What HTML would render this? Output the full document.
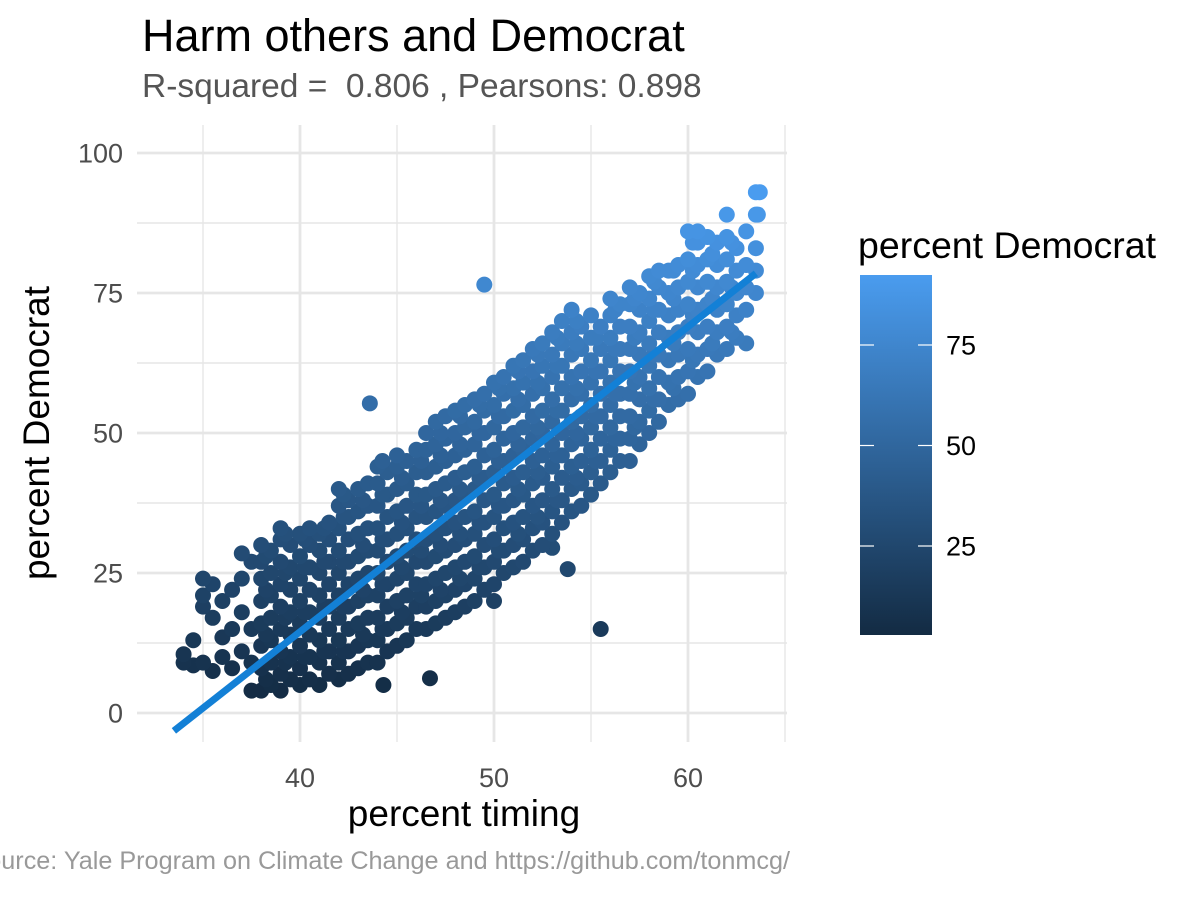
<!DOCTYPE html>
<html><head><meta charset="utf-8"><style>
html,body{margin:0;padding:0;background:#fff;}
svg text{font-family:"Liberation Sans",Arial,sans-serif;}
</style></head><body>
<svg id="chart" width="1200" height="900" xmlns="http://www.w3.org/2000/svg">
<defs><linearGradient id="cb" x1="0" y1="1" x2="0" y2="0"><stop offset="0" stop-color="#132B43"/><stop offset="1" stop-color="#4A9CEF"/></linearGradient></defs>
<g id="grid"></g>
<g id="points"></g>
<g id="fit"></g>
<g id="axes"></g>
<text x="142" y="51" font-size="45" fill="#000">Harm others and Democrat</text>
<text x="142" y="97" font-size="33.5" fill="#555" xml:space="preserve">R-squared =  0.806 , Pearsons: 0.898</text>
<text x="464" y="826" font-size="37" text-anchor="middle" fill="#000">percent timing</text>
<text transform="translate(49,433) rotate(-90)" font-size="37" text-anchor="middle" fill="#000">percent Democrat</text>
<text x="790" y="869" font-size="25.2" text-anchor="end" fill="#999">Source: Yale Program on Climate Change and https://github.com/tonmcg/</text>
<g>
<text x="858" y="258" font-size="37.5" fill="#000">percent Democrat</text>
<rect x="860" y="275" width="72" height="360" fill="url(#cb)"/>
<g id="cbticks"></g>
</g>
</svg>
<script>
const xTicks=[40,50,60];
const yTicks=[0,25,50,75,100];
const legendTicks=[25,50,75];
const fitStart=[33.5,-3.2];
const fitEnd=[63.5,78.5];
const colX=[34,34.5,35,35.5,36,36.5,37,37.5,38,38.5,39,39.5,40,40.5,41,41.5,42,42.5,43,43.5,44,44.5,45,45.5,46,46.5,47,47.5,48,48.5,49,49.5,50,50.5,51,51.5,52,52.5,53,53.5,54,54.5,55,55.5,56,56.5,57,57.5,58,58.5,59,59.5,60,60.5,61,61.5,62,62.5,63,63.5];
const colY=[[9,10.5],[8.5,13],[9,19,21,24],[7.5,17,23],[10,13.5,20],[8,15,22],[11,18,24,28.5],[4,9,15,27],
[4,8,12,16,20,24,27,30],[5,9,13,17,21,25,29],[4,7,11,15,19,23,27,31,33],[6,10,14,18,22,26,30],[5,8,12,16,20,24,28,32],[6,10,14,18,22,26,30,33],[5,9,13,17,21,25,29,32],[7,11,15,19,23,27,31,34],[6,9,13,17,21,25,29,33,37,40],[7,11,15,19,23,27,31,35,38],[8,12,16,20,24,28,32,36,40],[9,13,17,21,25,29,33,37,41],[9,13,17,21,25,29,33,37,41,44],[11,15,19,23,27,31,35,39,43],[12,16,20,24,28,32,36,40,44,46],[13,17,21,25,29,33,37,41,45],[15,19,23,27,31,35,39,43,47],[15,19,23,27,31,35,39,43,47,50],[16,20,24,28,32,36,40,44,48,52],[17,21,25,29,33,37,41,45,49,53],[18,22,26,30,34,38,42,46,50,54],[19,23,27,31,35,39,43,47,51,55],[20,24,28,32,36,40,44,48,52,56],[22,26,30,34,38,42,46,50,54,57],[23,27,31,35,39,43,47,51,55,59],[25,29,33,37,41,45,49,53,57,60],[26,30,34,38,42,46,50,54,58,62],[27,31,35,39,43,47,51,55,59,63],[29,33,37,41,45,49,53,57,61,65],[30,34,38,42,46,50,54,58,62,66],[32,36,40,44,48,52,56,60,64,68],[34,38,42,46,50,54,58,62,66,70],[36,40,44,48,52,56,60,64,68,72],[37,41,45,49,53,57,61,65,69],[39,43,47,51,55,59,63,67,71],[41,45,49,53,57,61,65,69],[43,47,51,55,59,63,67,71,74],[45,49,53,57,61,65,69,73],[45,49,53,57,61,65,69,73,76],[48,52,56,60,64,68,72,75],[50,54,58,62,66,70,74,78],[52,56,60,64,68,72,76,79],[55,59,63,67,71,75,79],[56,60,64,68,72,76,80],[57,61,65,69,73,77,81,86],[60,64,68,72,76,80,84,86],[61,65,69,73,77,81,85],[64,68,72,76,80,84],[65,69,73,77,81,85,89],[67,71,75,79,83],[66,72,76,80,86],[75,79,83,89,93]];
const midX=[38.25,39.25,40.25,41.25,42.25,43.25,44.25,45.25,46.25,47.25,48.25,49.25,50.25,51.25,52.25,53.25,54.25,55.25,56.25,57.25,58.25,59.25,60.25,61.25,62.25];
const midY=[[6,14,22,28],[9,17,25,32],[10,18,26,31],[11,19,27,33],[11,19,27,35,39],[14,22,30,38],[15,23,31,39,45],[18,26,34,42],[21,29,37,45],[22,30,38,46,50],[24,32,40,48,53],[26,34,42,50,55],[29,37,45,53,58],[32,40,48,56,61],[35,43,51,59,64],[38,46,54,62,67],[42,50,58,66,70],[45,53,61,67],[49,57,65,72],[51,59,67,74],[56,64,72,77],[58,66,74,79],[63,71,79,84],[66,74,82],[68,76,84]];
const outX=[49.5,43.6,55.5,53.8,53,50,46.7,44.3,63.7,63.6];
const outY=[76.5,55.3,15,25.7,29.5,20,6.2,5,93,89];
const cMin=2.9,cMax=92.4;
const NS="http://www.w3.org/2000/svg";
const sx=v=>300+(v-40)*19.4;
const sy=v=>713-v*5.6;
const cby=v=>646.5-v*4.02;
function mk(tag,attrs,parent){const e=document.createElementNS(NS,tag);for(const k in attrs)e.setAttribute(k,attrs[k]);parent.appendChild(e);return e;}
function col(v){let t=(v-cMin)/(cMax-cMin);t=Math.max(0,Math.min(1,t));const a=[0x13,0x2B,0x43],b=[0x4A,0x9C,0xEF];return 'rgb('+a.map((c,i)=>Math.round(c+(b[i]-c)*t)).join(',')+')';}
const grid=document.getElementById('grid');
for(let v=35;v<=65;v+=5){const l=mk('line',{x1:sx(v),x2:sx(v),y1:125,y2:742,stroke:'#e6e6e6','stroke-width':v%10===0?2.8:1.4},grid);

}
for(let v=0;v<=100;v+=12.5){const l=mk('line',{x1:137,x2:787,y1:sy(v),y2:sy(v),stroke:'#e6e6e6','stroke-width':v%25===0?2.8:1.4},grid);

}
const axes=document.getElementById('axes');
xTicks.forEach(v=>{const t=mk('text',{x:sx(v),y:787,'font-size':27,'text-anchor':'middle',fill:'#4d4d4d'},axes);t.textContent=v;

});
yTicks.forEach(v=>{const t=mk('text',{x:123,y:sy(v)+9.5,'font-size':27,'text-anchor':'end',fill:'#4d4d4d'},axes);t.textContent=v;

});
const pts=[];
colX.forEach((x,i)=>colY[i].forEach(y=>pts.push([x,y])));
midX.forEach((x,i)=>midY[i].forEach(y=>pts.push([x,y])));
outX.forEach((x,i)=>pts.push([x,outY[i]]));
pts.sort((a,b)=>a[1]-b[1]);
const pg=document.getElementById('points');
pts.forEach(p=>{const c=mk('circle',{cx:sx(p[0]),cy:sy(p[1]),r:8,fill:col(p[1])},pg);

});
const fl=mk('line',{x1:sx(fitStart[0]),y1:sy(fitStart[1]),x2:sx(fitEnd[0]),y2:sy(fitEnd[1]),stroke:'#1380D6','stroke-width':7},document.getElementById('fit'));


const cbt=document.getElementById('cbticks');
legendTicks.forEach(v=>{const y=cby(v);
mk('line',{x1:860,x2:874,y1:y,y2:y,stroke:'#fff','stroke-width':1.2},cbt);
mk('line',{x1:918,x2:932,y1:y,y2:y,stroke:'#fff','stroke-width':1.2},cbt);
const t=mk('text',{x:946,y:y+9.5,'font-size':27,fill:'#000'},cbt);t.textContent=v;

});
</script>
</body></html>
